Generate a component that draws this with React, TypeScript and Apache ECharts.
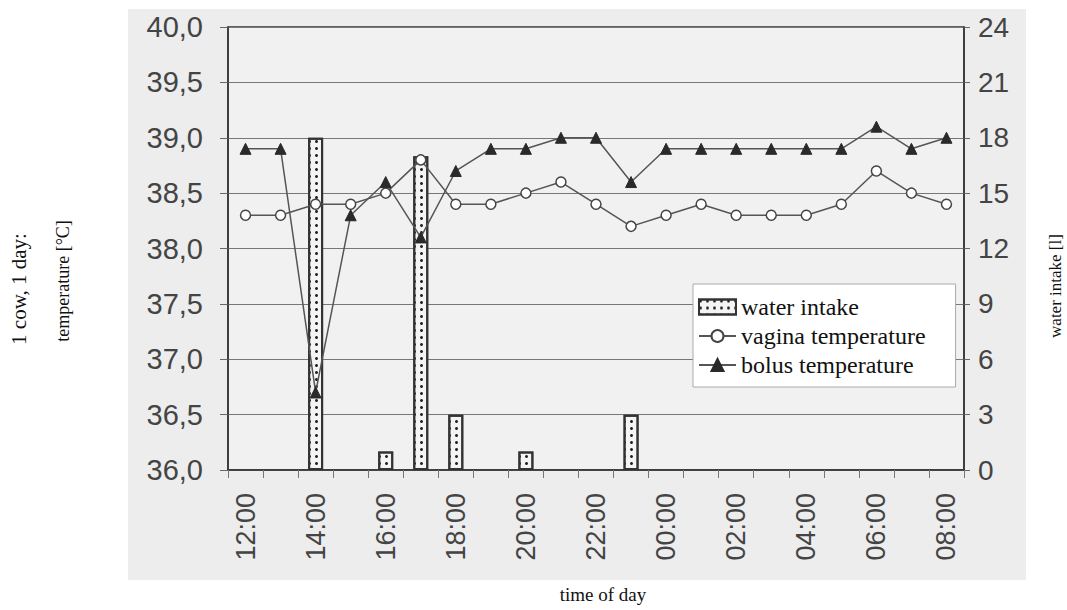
import React, { useEffect, useRef } from "react";
import * as echarts from "echarts";

const hours = [
  "12:00", "13:00", "14:00", "15:00", "16:00", "17:00", "18:00", "19:00", "20:00", "21:00",
  "22:00", "23:00", "00:00", "01:00", "02:00", "03:00", "04:00", "05:00", "06:00", "07:00", "08:00",
];
const waterIntake = [null, null, 18, null, 1, 17, 3, null, 1, null, null, 3, null, null, null, null, null, null, null, null, null];
const vaginaTemp = [38.3, 38.3, 38.4, 38.4, 38.5, 38.8, 38.4, 38.4, 38.5, 38.6, 38.4, 38.2, 38.3, 38.4, 38.3, 38.3, 38.3, 38.4, 38.7, 38.5, 38.4];
const bolusTemp = [38.9, 38.9, 36.7, 38.3, 38.6, 38.1, 38.7, 38.9, 38.9, 39.0, 39.0, 38.6, 38.9, 38.9, 38.9, 38.9, 38.9, 38.9, 39.1, 38.9, 39.0];

const SANS = "Liberation Sans";
const SERIF = "Liberation Serif";

export default function App() {
  const ref = useRef<HTMLDivElement>(null);
  useEffect(() => {
    if (!ref.current) return;
    const chart = echarts.init(ref.current, null, { renderer: "svg" });
    const decal = {
      symbol: "circle",
      symbolSize: 1,
      color: "#222",
      dashArrayX: [3, 4],
      dashArrayY: [3, 4],
      rotation: 0,
    };
    chart.setOption({
      animation: false,
      backgroundColor: "#ffffff",
      textStyle: { fontFamily: SERIF },
      graphic: [
        { type: "rect", shape: { x: 128, y: 9, width: 898, height: 571 }, style: { fill: "#ededed" }, z: -10, silent: true },
        { type: "text", x: 19, y: 289, rotation: Math.PI / 2, style: { text: "1 cow, 1 day:", font: `21px ${SERIF}`, fill: "#111", align: "center", verticalAlign: "middle" } },
        { type: "text", x: 63, y: 281, rotation: Math.PI / 2, style: { text: "temperature [°C]", font: `18px ${SERIF}`, fill: "#111", align: "center", verticalAlign: "middle" } },
        { type: "text", x: 1055, y: 286, rotation: Math.PI / 2, style: { text: "water intake [l]", font: `17px ${SERIF}`, fill: "#111", align: "center", verticalAlign: "middle" } },
        { type: "text", x: 603, y: 594, style: { text: "time of day", font: `19px ${SERIF}`, fill: "#111", align: "center", verticalAlign: "middle" } },
      ],
      grid: {
        left: 228, top: 27, right: 103, bottom: 140,
        show: true, backgroundColor: "#f1f1f1", borderColor: "#333", borderWidth: 1.5,
      },
      legend: {
        left: 693, top: 284,
        orient: "vertical",
        itemWidth: 37, itemHeight: 15, itemGap: 5,
        padding: [11, 30, 10, 5],
        backgroundColor: "#ffffff",
        borderColor: "#aaa", borderWidth: 1,
        textStyle: { fontFamily: SERIF, fontSize: 24, color: "#111" },
        data: [
          { name: "water intake", icon: "rect" },
          { name: "vagina temperature" },
          { name: "bolus temperature" },
        ],
      },
      xAxis: {
        type: "category",
        data: hours,
        boundaryGap: true,
        axisLine: { lineStyle: { color: "#333", width: 1.5 } },
        axisTick: { show: true, interval: 0, length: 8, lineStyle: { color: "#777" } },
        axisLabel: { interval: 1, rotate: 90, margin: 23, fontSize: 27, fontFamily: SANS, color: "#444" },
        splitLine: { show: false },
      },
      yAxis: [
        {
          type: "value", min: 36, max: 40, interval: 0.5, position: "left",
          axisLine: { show: true, lineStyle: { color: "#333", width: 1.5 } },
          axisTick: { show: true, length: 8, lineStyle: { color: "#666" } },
          axisLabel: { margin: 25, fontSize: 29, fontFamily: SANS, color: "#444", formatter: (v: number) => v.toFixed(1).replace(".", ",") },
          splitLine: { show: true, lineStyle: { color: "#777", width: 1 } },
        },
        {
          type: "value", min: 0, max: 24, interval: 3, position: "right",
          axisLine: { show: true, lineStyle: { color: "#333", width: 1.5 } },
          axisTick: { show: true, length: 6, lineStyle: { color: "#666" } },
          axisLabel: { margin: 14, fontSize: 28, fontFamily: SANS, color: "#444" },
          splitLine: { show: false },
        },
      ],
      series: [
        {
          name: "water intake",
          type: "bar",
          yAxisIndex: 1,
          data: waterIntake,
          barWidth: 15,
          itemStyle: { color: "#f4f4f4", borderColor: "#333", borderWidth: 2, decal },
        },
        {
          name: "vagina temperature",
          type: "line",
          yAxisIndex: 0,
          data: vaginaTemp,
          symbol: "circle",
          symbolSize: 10,
          showAllSymbol: true,
          lineStyle: { color: "#555", width: 1.5 },
          itemStyle: { color: "#ffffff", borderColor: "#444", borderWidth: 1.5 },
          z: 3,
        },
        {
          name: "bolus temperature",
          type: "line",
          yAxisIndex: 0,
          data: bolusTemp,
          symbol: "triangle",
          symbolSize: 11,
          showAllSymbol: true,
          lineStyle: { color: "#555", width: 1.5 },
          itemStyle: { color: "#2a2a2a", borderColor: "#2a2a2a", borderWidth: 1 },
          z: 4,
        },
      ],
    });
    return () => chart.dispose();
  }, []);
  return <div ref={ref} style={{ position: "fixed", left: 0, top: 0, width: 1067, height: 610 }} />;
}
